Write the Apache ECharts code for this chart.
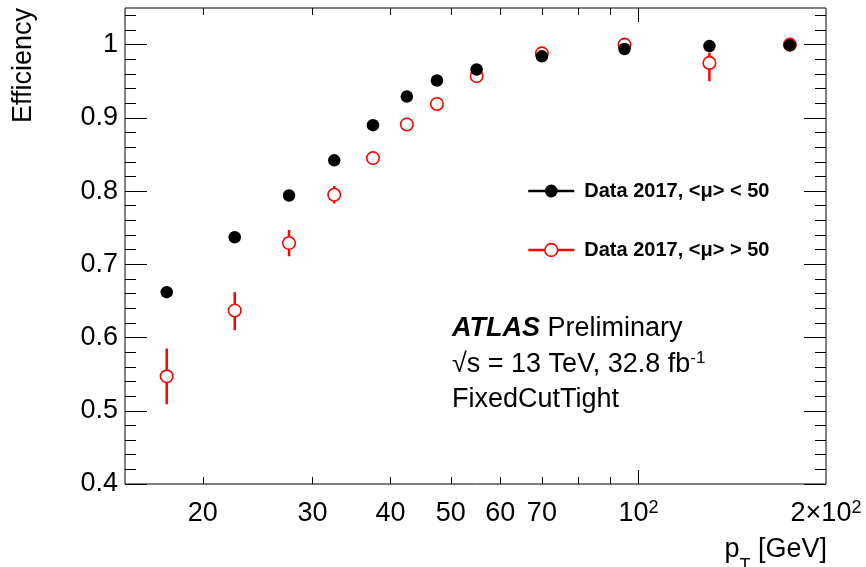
<!DOCTYPE html>
<html><head><meta charset="utf-8">
<script src="https://cdn.jsdelivr.net/npm/echarts@6/dist/echarts.min.js"></script>
<style>html,body{margin:0;padding:0;background:#fff}#c{width:866px;height:567px}</style>
</head><body><div id="c"></div>
<script>
// ---- data ----
const ptBins = [17.5, 22.5, 27.5, 32.5, 37.5, 42.5, 47.5, 55, 70, 95, 130, 175];
const effLowMu = [0.662, 0.737, 0.794, 0.842, 0.890, 0.929, 0.951, 0.966, 0.984, 0.994, 0.998, 0.999];
const effHighMu = [0.547, 0.637, 0.729, 0.795, 0.845, 0.891, 0.919, 0.957, 0.988, 1.000, 0.975, 1.000];
const errHighMuUp = [0.038, 0.025, 0.018, 0.012, 0.009, 0.006, 0.005, 0.004, 0.003, 0.002, 0.014, 0.001];
const errHighMuDown = [0.038, 0.027, 0.018, 0.012, 0.009, 0.006, 0.005, 0.004, 0.003, 0.002, 0.025, 0.001];
const seriesNames = ['Data 2017, <\u03bc> < 50', 'Data 2017, <\u03bc> > 50'];
const xMinorTicks = [20, 30, 40, 50, 60, 70, 80, 90];
const xMajorTicks = [100];
const xTickLabels = [20, 30, 40, 50, 60, 70, 100, 200];
const yTickLabels = [0.4, 0.5, 0.6, 0.7, 0.8, 0.9, 1.0];
const yMinorTicks = [0.42, 0.44, 0.46, 0.48, 0.52, 0.54, 0.56, 0.58, 0.62, 0.64, 0.66, 0.68,
  0.72, 0.74, 0.76, 0.78, 0.82, 0.84, 0.86, 0.88, 0.92, 0.94, 0.96, 0.98, 1.02, 1.04];

// ---- chart ----
const FF = "'Liberation Sans', Arial, Helvetica, sans-serif";
const lg = v => Math.log10(v);
const X_MIN = lg(15), X_MAX = lg(200), Y_MIN = 0.4, Y_MAX = 1.05;
const chart = echarts.init(document.getElementById('c'), null, {renderer: 'canvas', width: 866, height: 567});

const tickLine = {color: '#000', width: 1};
function xAx(pos, ticks, len, withLabels) {
  return {
    type: 'value', position: pos, min: X_MIN, max: X_MAX,
    axisLine: {show: false}, splitLine: {show: false},
    axisTick: {show: true, inside: true, length: len, customValues: ticks.map(lg), lineStyle: tickLine},
    axisLabel: withLabels ? {
      show: true, customValues: xTickLabels.map(lg), margin: 15,
      fontSize: 27, fontFamily: FF, color: '#000', lineHeight: 30,
      formatter: v => {
        const p = Math.round(Math.pow(10, v));
        if (p === 100) return '10{sup|2}';
        if (p === 200) return '2\u00d710{sup|2}';
        return String(p);
      },
      rich: {sup: {fontSize: 18, fontFamily: FF, color: '#000', lineHeight: 12, verticalAlign: 'top'}}
    } : {show: false}
  };
}
function yAx(pos, ticks, len, withLabels) {
  return {
    type: 'value', position: pos, min: Y_MIN, max: Y_MAX,
    axisLine: {show: false}, splitLine: {show: false},
    axisTick: {show: true, inside: true, length: len, customValues: ticks, lineStyle: tickLine},
    axisLabel: withLabels ? {
      show: true, customValues: yTickLabels, margin: 7,
      fontSize: 27, fontFamily: FF, color: '#000',
      formatter: v => (Math.abs(v - 1) < 1e-9 ? '1' : v.toFixed(1))
    } : {show: false}
  };
}

const option = {
  animation: false,
  backgroundColor: '#fff',
  grid: {left: 125, right: 40, top: 8, bottom: 83, show: true, borderColor: '#000', borderWidth: 1,
         containLabel: false, outerBoundsMode: 'none'},
  xAxis: [
    xAx('bottom', xMinorTicks, 7, true),
    xAx('bottom', xMajorTicks, 14, false),
    xAx('top', xMinorTicks, 7, false),
    xAx('top', xMajorTicks, 14, false)
  ],
  yAxis: [
    yAx('left', yTickLabels, 22, true),
    yAx('left', yMinorTicks, 11, false),
    yAx('right', yTickLabels, 22, false),
    yAx('right', yMinorTicks, 11, false)
  ],
  legend: {
    orient: 'vertical', left: 527, top: 181, padding: 0, itemWidth: 46, itemHeight: 16, itemGap: 39,
    selectedMode: false,
    textStyle: {fontSize: 20, fontWeight: 'bold', fontFamily: FF, color: '#000', lineHeight: 20, padding: [0, 0, 0, 5]},
    data: [
      {name: seriesNames[0], itemStyle: {color: '#000', borderWidth: 0},
       lineStyle: {color: '#000', width: 2.5, opacity: 1}},
      {name: seriesNames[1], itemStyle: {color: '#fff', borderColor: '#ff0000', borderWidth: 1.6},
       lineStyle: {color: '#ff0000', width: 2.5, opacity: 1}}
    ]
  },
  series: [
    {
      name: 'errors', type: 'custom', xAxisIndex: 0, yAxisIndex: 0, z: 2, silent: true,
      data: ptBins.map((p, i) => [lg(p), effHighMu[i], errHighMuUp[i], errHighMuDown[i]]),
      encode: {x: 0, y: 1},
      renderItem: (params, api) => {
        const x = api.value(0), y = api.value(1), up = api.value(2), dn = api.value(3);
        const c = api.coord([x, y]);
        const t = api.coord([x, y + up]);
        const b = api.coord([x, y - dn]);
        const r = 6.5;
        const st = {stroke: '#ff0000', lineWidth: 2.5};
        const ch = [];
        if (c[1] - t[1] > r) ch.push({type: 'line', shape: {x1: c[0], y1: t[1], x2: c[0], y2: c[1] - r}, style: st});
        if (b[1] - c[1] > r) ch.push({type: 'line', shape: {x1: c[0], y1: c[1] + r, x2: c[0], y2: b[1]}, style: st});
        return {type: 'group', children: ch};
      }
    },
    {
      name: seriesNames[1], type: 'line', xAxisIndex: 0, yAxisIndex: 0, z: 3,
      data: ptBins.map((p, i) => [lg(p), effHighMu[i]]),
      symbol: 'circle', symbolSize: 12.5, showSymbol: true,
      itemStyle: {color: '#fff', borderColor: '#ff0000', borderWidth: 1.6},
      lineStyle: {color: '#ff0000', opacity: 0}
    },
    {
      name: seriesNames[0], type: 'line', xAxisIndex: 0, yAxisIndex: 0, z: 4,
      data: ptBins.map((p, i) => [lg(p), effLowMu[i]]),
      symbol: 'circle', symbolSize: 12.5, showSymbol: true,
      itemStyle: {color: '#000'},
      lineStyle: {color: '#000', opacity: 0}
    }
  ],
  graphic: [
    {type: 'text', x: 10, y: 8, rotation: Math.PI / 2, silent: true,
     style: {text: 'Efficiency', fontSize: 27, fontFamily: FF, fill: '#000', align: 'right', verticalAlign: 'top'}},
    {type: 'text', x: 827, y: 525, silent: true,
     style: {text: '{m|p}{s|T}{m| [GeV]}', align: 'right', verticalAlign: 'top', fontFamily: FF, fill: '#000',
       rich: {m: {fontSize: 27, fontFamily: FF, lineHeight: 50, fill: '#000'},
              s: {fontSize: 18, fontFamily: FF, lineHeight: 20, verticalAlign: 'bottom', fill: '#000'}}}},
    {type: 'text', x: 452, y: 329, silent: true,
     style: {text: '{b|ATLAS}{m| Preliminary}', align: 'left', verticalAlign: 'middle', fontFamily: FF, fill: '#000',
       rich: {b: {fontSize: 27, fontFamily: FF, fontWeight: 'bold', fontStyle: 'italic', fill: '#000'},
              m: {fontSize: 27, fontFamily: FF, fill: '#000'}}}},
    {type: 'text', x: 452, y: 365, silent: true,
     style: {text: '{m|\u221as = 13 TeV, 32.8 fb}{u|-1}', align: 'left', verticalAlign: 'middle', fontFamily: FF, fill: '#000',
       rich: {m: {fontSize: 27, fontFamily: FF, lineHeight: 30, fill: '#000'},
              u: {fontSize: 17, fontFamily: FF, lineHeight: 16, verticalAlign: 'top', fill: '#000'}}}},
    {type: 'text', x: 452, y: 400, silent: true,
     style: {text: 'FixedCutTight', align: 'left', verticalAlign: 'middle', fontSize: 27, fontFamily: FF, fill: '#000'}}
  ]
};
chart.setOption(option);
</script>
</body></html>
